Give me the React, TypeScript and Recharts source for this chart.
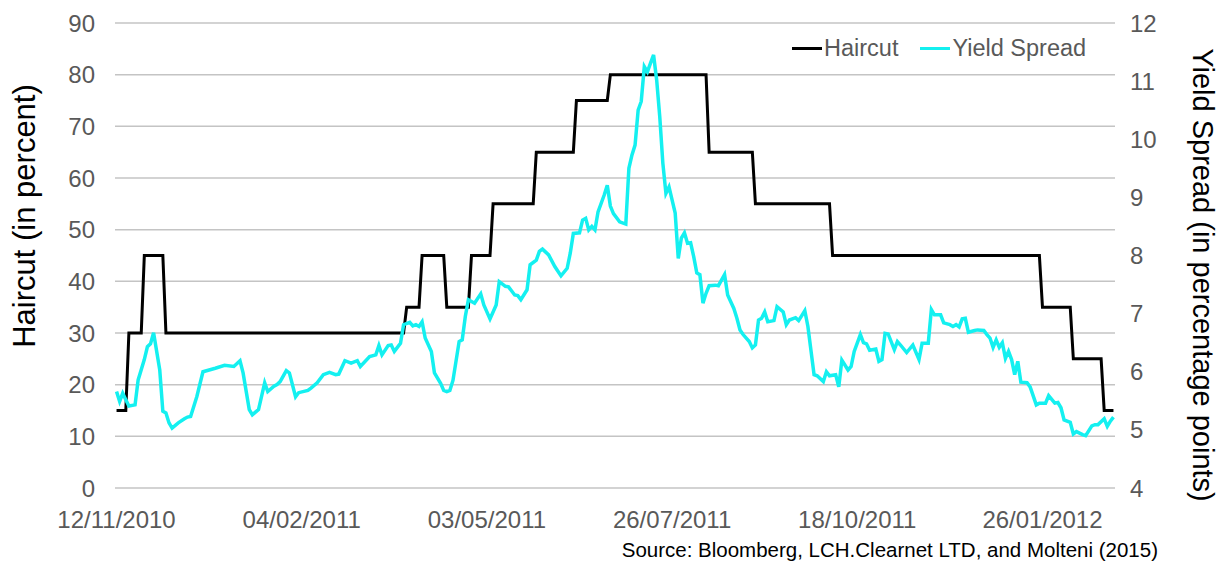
import { CartesianGrid, Line, LineChart, XAxis, YAxis } from "recharts";

const dateTicks = ["12/11/2010", "04/02/2011", "03/05/2011", "26/07/2011", "18/10/2011", "26/01/2012"];
const tickIndex = [0, 60, 120, 180, 240, 300];

const haircutTicks = [0, 10, 20, 30, 40, 50, 60, 70, 80, 90];
const spreadTicks = [4, 5, 6, 7, 8, 9, 10, 11, 12];

// [business day index, haircut %]
const haircut: [number, number][] = [
  [0, 15], [3, 15], [4, 30], [8, 30], [9, 45], [15, 45], [16, 30], [93, 30], [94, 35],
  [98, 35], [99, 45], [106, 45], [107, 35], [114, 35], [115, 45], [121, 45], [122, 55],
  [135, 55], [136, 65], [148, 65], [149, 75], [159, 75], [160, 80], [191, 80], [192, 65],
  [206, 65], [207, 55], [231, 55], [232, 45], [299, 45], [300, 35], [309, 35], [310, 25],
  [319, 25], [320, 15], [323, 15],
];

// [business day index, yield spread in pp]
const yieldSpread: [number, number][] = [
  [0, 5.66], [1, 5.49], [2, 5.63], [3, 5.52], [4, 5.41], [6, 5.43], [7, 5.86], [9, 6.21],
  [10, 6.43], [11, 6.48], [12, 6.67], [14, 6.03], [15, 5.32], [16, 5.29], [17, 5.12],
  [18, 5.03], [20, 5.12], [22, 5.19], [23, 5.22], [24, 5.23], [26, 5.57], [28, 6.0],
  [30, 6.03], [32, 6.06], [35, 6.11], [38, 6.09], [40, 6.19], [41, 5.98], [43, 5.35],
  [44, 5.26], [46, 5.35], [48, 5.81], [49, 5.66], [51, 5.75], [52, 5.78], [53, 5.83],
  [55, 6.02], [56, 5.98], [58, 5.57], [59, 5.64], [62, 5.68], [63, 5.72], [65, 5.81],
  [67, 5.95], [69, 5.99], [71, 5.95], [72, 5.96], [74, 6.19], [76, 6.15], [78, 6.19],
  [79, 6.09], [82, 6.26], [84, 6.29], [85, 6.45], [86, 6.29], [88, 6.45], [89, 6.46],
  [90, 6.35], [92, 6.49], [93, 6.81], [95, 6.85], [96, 6.79], [97, 6.81], [98, 6.78],
  [99, 6.86], [100, 6.58], [102, 6.35], [103, 5.98], [105, 5.8], [106, 5.68], [107, 5.66],
  [108, 5.68], [109, 5.85], [111, 6.52], [112, 6.55], [113, 6.95], [114, 7.24], [116, 7.18],
  [118, 7.34], [119, 7.15], [121, 6.91], [123, 7.15], [124, 7.55], [126, 7.47], [127, 7.46],
  [129, 7.32], [130, 7.31], [131, 7.24], [133, 7.41], [134, 7.84], [136, 7.92], [137, 8.07],
  [138, 8.11], [140, 8.01], [142, 7.81], [144, 7.65], [146, 7.78], [147, 8.04], [148, 8.38],
  [150, 8.39], [151, 8.61], [152, 8.64], [153, 8.44], [154, 8.5], [155, 8.44], [156, 8.75],
  [158, 9.04], [159, 9.21], [160, 8.85], [161, 8.72], [163, 8.58], [165, 8.54], [166, 9.5],
  [167, 9.73], [168, 9.9], [169, 10.5], [170, 10.65], [171, 11.25], [172, 11.16], [173, 11.31],
  [174, 11.45], [175, 11.02], [176, 10.39], [177, 9.59], [178, 9.07], [179, 9.18], [181, 8.73],
  [182, 7.95], [183, 8.3], [184, 8.39], [185, 8.21], [186, 8.22], [187, 7.98], [188, 7.7],
  [189, 7.67], [190, 7.18], [191, 7.35], [192, 7.48], [194, 7.49], [195, 7.48], [197, 7.67],
  [198, 7.32], [200, 7.09], [201, 6.92], [202, 6.72], [203, 6.64], [205, 6.52], [206, 6.41],
  [207, 6.46], [208, 6.89], [209, 6.92], [210, 7.03], [211, 6.86], [213, 6.88], [214, 7.12],
  [216, 7.03], [217, 6.81], [218, 6.89], [220, 6.93], [221, 6.88], [223, 7.05], [224, 6.78],
  [226, 5.95], [227, 5.93], [229, 5.83], [230, 6.0], [231, 5.93], [233, 5.95], [234, 5.74],
  [235, 6.2], [237, 6.03], [238, 6.09], [239, 6.35], [241, 6.64], [242, 6.5], [243, 6.48],
  [244, 6.37], [246, 6.39], [247, 6.18], [248, 6.21], [249, 6.66], [250, 6.65], [252, 6.38],
  [253, 6.52], [254, 6.46], [256, 6.33], [258, 6.46], [260, 6.21], [261, 6.49], [263, 6.49],
  [264, 7.07], [265, 6.98], [267, 6.98], [268, 6.84], [270, 6.81], [271, 6.78], [272, 6.81],
  [273, 6.77], [274, 6.91], [275, 6.92], [276, 6.68], [278, 6.71], [279, 6.72], [281, 6.71],
  [282, 6.64], [283, 6.58], [284, 6.42], [285, 6.55], [286, 6.42], [287, 6.5], [288, 6.23],
  [289, 6.35], [290, 6.21], [291, 5.95], [292, 6.18], [293, 5.82], [295, 5.81], [296, 5.74],
  [298, 5.43], [299, 5.46], [301, 5.46], [302, 5.59], [304, 5.46], [305, 5.47], [306, 5.38],
  [307, 5.17], [309, 5.13], [310, 4.93], [311, 4.97], [313, 4.92], [314, 4.9], [316, 5.07],
  [317, 5.09], [318, 5.09], [320, 5.19], [321, 5.06], [322, 5.15], [323, 5.22],
];

const FONT = "'Liberation Sans', Arial, sans-serif";
const GREY = "#595959";
const CYAN = "#14F0F0";

const haircutData = haircut.map(([i, v]) => ({ i, v }));
const spreadData = yieldSpread.map(([i, v]) => ({ i, v }));

const legendItems = [
  { name: "Haircut", color: "#000000" },
  { name: "Yield Spread", color: CYAN },
];

function LegendBox() {
  return (
    <div
      style={{
        position: "absolute",
        left: 792,
        top: 35,
        display: "flex",
        alignItems: "center",
        fontFamily: FONT,
        fontSize: 23.5,
        color: GREY,
        whiteSpace: "nowrap",
      }}
    >
      {legendItems.map((it, idx) => (
        <div key={it.name} style={{ display: "flex", alignItems: "center", marginLeft: idx ? 22 : 0 }}>
          <span style={{ display: "inline-block", width: 30, height: 3, background: it.color }} />
          <span style={{ marginLeft: 2 }}>{it.name}</span>
        </div>
      ))}
    </div>
  );
}

export default function App() {
  const tickStyle = { fill: GREY, fontSize: 24, fontFamily: FONT };
  return (
    <div style={{ position: "fixed", left: 0, top: 0, width: 1228, height: 564, background: "#fff" }}>
      <LineChart width={1228} height={564} margin={{ top: 23, right: 0, left: 0, bottom: 46 }}>
        <CartesianGrid yAxisId="left" vertical={false} stroke="#c4c4c4" strokeWidth={1.5} />
        <XAxis
          dataKey="i"
          type="number"
          domain={[-0.5, 323.5]}
          ticks={tickIndex}
          tickFormatter={(v: number) => dateTicks[tickIndex.indexOf(v)] ?? ""}
          axisLine={false}
          tickLine={false}
          tickSize={0}
          tickMargin={23}
          height={30}
          interval={0}
          allowDataOverflow
          tick={tickStyle}
        />
        <YAxis
          yAxisId="left"
          domain={[0, 90]}
          ticks={haircutTicks}
          width={115}
          axisLine={false}
          tickLine={false}
          tickSize={0}
          tickMargin={20}
          interval={0}
          tick={tickStyle}
          label={{
            content: () => (
              <text
                transform="translate(24,216) rotate(-90)"
                textAnchor="middle"
                dominantBaseline="central"
                fontSize={31}
                fontFamily={FONT}
                fill="#000"
              >
                Haircut (in percent)
              </text>
            ),
          }}
        />
        <YAxis
          yAxisId="right"
          orientation="right"
          domain={[4, 12]}
          ticks={spreadTicks}
          width={113}
          axisLine={false}
          tickLine={false}
          tickSize={0}
          tickMargin={15}
          interval={0}
          tick={tickStyle}
          label={{
            content: () => (
              <text
                transform="translate(1203,275) rotate(90)"
                textAnchor="middle"
                dominantBaseline="central"
                fontSize={29}
                fontFamily={FONT}
                fill="#000"
              >
                Yield Spread (in percentage points)
              </text>
            ),
          }}
        />
        <Line
          yAxisId="left"
          data={haircutData}
          dataKey="v"
          name="Haircut"
          type="linear"
          stroke="#000000"
          strokeWidth={3}
          dot={false}
          activeDot={false}
          isAnimationActive={false}
        />
        <Line
          yAxisId="right"
          data={spreadData}
          dataKey="v"
          name="Yield Spread"
          type="linear"
          stroke={CYAN}
          strokeWidth={3.5}
          dot={false}
          activeDot={false}
          isAnimationActive={false}
        />
      </LineChart>
      <LegendBox />
      <div
        style={{
          position: "absolute",
          right: 70,
          top: 538,
          fontFamily: FONT,
          fontSize: 20.5,
          color: "#000",
          whiteSpace: "nowrap",
        }}
      >
        Source: Bloomberg, LCH.Clearnet LTD, and Molteni (2015)
      </div>
    </div>
  );
}
